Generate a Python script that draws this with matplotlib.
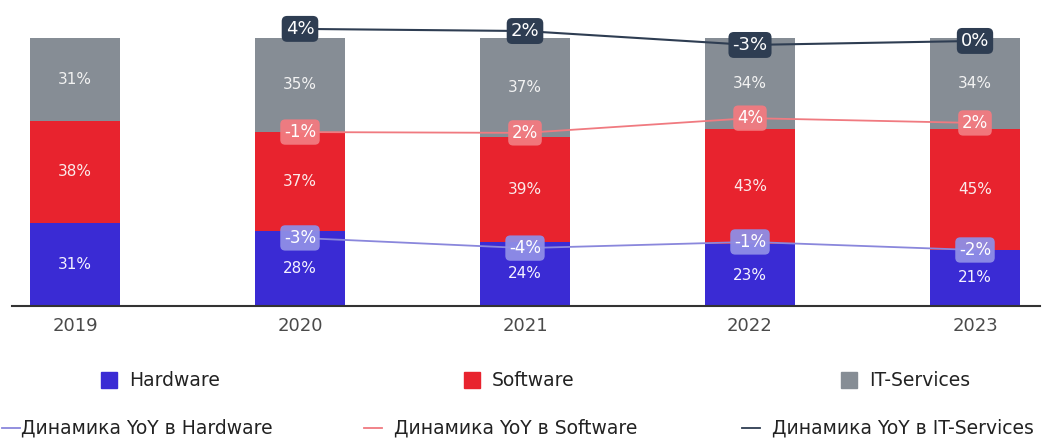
import matplotlib
matplotlib.use("Agg")
import matplotlib.pyplot as plt
from matplotlib.patches import Rectangle
from matplotlib.lines import Line2D
import numpy as np

plt.rcParams['font.family'] = ['DejaVu Sans']

years = ["2019", "2020", "2021", "2022", "2023"]
hardware = [31, 28, 24, 23, 21]
software = [38, 37, 39, 43, 45]
it_services = [31, 35, 37, 34, 34]

yoy_years_idx = [1, 2, 3, 4]
yoy_hw = ["-3%", "-4%", "-1%", "-2%"]
yoy_sw = ["-1%", "2%", "4%", "2%"]
yoy_it = ["4%", "2%", "-3%", "0%"]
# vertical level (in % of bar height) at which each YoY line is drawn
lvl_hw = [25.4, 21.6, 23.9, 20.9]
lvl_sw = [64.9, 64.6, 70.1, 68.3]
lvl_it = [103.4, 102.6, 97.4, 98.9]

c_hw = "#3a2bd4"
c_sw = "#e8232e"
c_it = "#868d95"
c_hw_line = "#8a87dc"
c_sw_line = "#f07a80"
c_it_line = "#2e3d52"

W, H = 1045, 438
fig = plt.figure(figsize=(W/100, H/100), dpi=100)
ax_l, ax_r = 12/W, 1040/W
ax_b, ax_t = 1 - 306/H, 1 - 38/H
ax = fig.add_axes([ax_l, ax_b, ax_r - ax_l, ax_t - ax_b])

x = np.arange(len(years))
bw = 0.4
hw = np.array(hardware)
sw = np.array(software)
it = np.array(it_services)
ax.bar(x, hw, bw, color=c_hw, zorder=2)
ax.bar(x, sw, bw, bottom=hw, color=c_sw, zorder=2)
ax.bar(x, it, bw, bottom=hw + sw, color=c_it, zorder=2)

fs_in = 11
for i in range(len(years)):
    ax.text(x[i], hw[i] / 2, f"{hw[i]}%", ha="center", va="center", color="#f4f2ff", fontsize=fs_in, zorder=5)
    ax.text(x[i], hw[i] + sw[i] / 2, f"{sw[i]}%", ha="center", va="center", color="#fbeaea", fontsize=fs_in, zorder=5)
    ax.text(x[i], hw[i] + sw[i] + it[i] / 2, f"{it[i]}%", ha="center", va="center", color="#f2f2f2", fontsize=fs_in, zorder=5)

xi = np.array(yoy_years_idx)
ax.plot(xi, lvl_hw, color=c_hw_line, lw=1.3, zorder=3, clip_on=False)
ax.plot(xi, lvl_sw, color=c_sw_line, lw=1.3, zorder=3, clip_on=False)
ax.plot(xi, lvl_it, color=c_it_line, lw=1.5, zorder=3, clip_on=False)

def box(xv, yv, txt, fc, fs, alpha=1.0):
    ax.text(xv, yv, txt, ha="center", va="center", color="white", fontsize=fs, zorder=6,
            bbox=dict(boxstyle="round,pad=0.22,rounding_size=0.3", fc=fc, ec="none", alpha=alpha),
            clip_on=False)

for j in range(len(xi)):
    box(xi[j], lvl_hw[j], yoy_hw[j], "#8f8ee6", 12, 0.95)
    box(xi[j], lvl_sw[j], yoy_sw[j], "#f27b80", 12, 0.95)
    box(xi[j], lvl_it[j], yoy_it[j], c_it_line, 13)

ax.set_xlim((12 - 75) / 225, (1040 - 75) / 225)
ax.set_ylim(0, 100)
ax.set_xticks(x)
ax.set_xticklabels(years, fontsize=13, color="#4a4a4a")
ax.tick_params(axis="x", length=0, pad=8)
ax.set_yticks([])
for s in ["top", "right", "left"]:
    ax.spines[s].set_visible(False)
ax.spines["bottom"].set_color("#333333")
ax.spines["bottom"].set_linewidth(1.5)
ax.spines["bottom"].set_zorder(4)

fs_leg = 13.5
# legend row 1
def sq(px, py, color, label):
    fig.patches.append(Rectangle((px / W, 1 - (py + 8) / H), 16 / W, 16 / H, transform=fig.transFigure,
                                 color=color, figure=fig))
    fig.text((px + 28) / W, 1 - py / H, label, ha="left", va="center", fontsize=fs_leg, color="#222222")

sq(101, 380, c_hw, "Hardware")
sq(464, 380, c_sw, "Software")
sq(841, 380, c_it, "IT-Services")

def ln(px, py, color, label, gap):
    fig.add_artist(Line2D([px / W, (px + 18) / W], [1 - py / H, 1 - py / H], color=color, lw=1.3,
                          transform=fig.transFigure))
    fig.text((px + 18 + gap) / W, 1 - py / H, label, ha="left", va="center", fontsize=fs_leg, color="#222222")

ln(2, 428, c_hw_line, "Динамика YoY в Hardware", 1)
ln(364, 428, c_sw_line, "Динамика YoY в Software", 12)
ln(742, 428, c_it_line, "Динамика YoY в IT-Services", 12)

fig.savefig("out.png", dpi=100)
